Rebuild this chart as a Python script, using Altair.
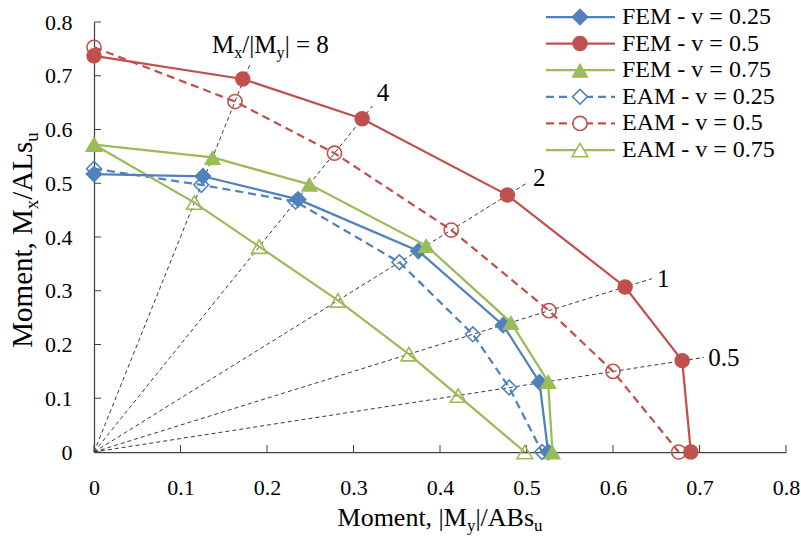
import altair as alt
import pandas as pd

# Interaction diagram: x = |My|/ABs_u, y = Mx/ALs_u
fem_025_x = [0.000, 0.126, 0.236, 0.375, 0.473, 0.515, 0.525]
fem_025_y = [0.517, 0.513, 0.470, 0.374, 0.236, 0.130, 0.000]
fem_05_x = [0.000, 0.172, 0.310, 0.478, 0.614, 0.680, 0.690]
fem_05_y = [0.737, 0.694, 0.620, 0.478, 0.307, 0.170, 0.000]
fem_075_x = [0.000, 0.137, 0.249, 0.384, 0.482, 0.525, 0.530]
fem_075_y = [0.572, 0.548, 0.498, 0.384, 0.241, 0.131, 0.000]
eam_025_x = [0.000, 0.124, 0.233, 0.353, 0.438, 0.480, 0.518]
eam_025_y = [0.527, 0.497, 0.466, 0.353, 0.219, 0.120, 0.000]
eam_05_x = [0.000, 0.163, 0.278, 0.413, 0.526, 0.600, 0.676]
eam_05_y = [0.753, 0.652, 0.556, 0.413, 0.263, 0.150, 0.000]
eam_075_x = [0.000, 0.116, 0.191, 0.282, 0.364, 0.421, 0.498]
eam_075_y = [0.572, 0.464, 0.382, 0.282, 0.182, 0.105, 0.000]

# Constant-ratio guide lines drawn from the origin, with their labels
ratio_labels = ["8", "4", "2", "1", "0.5"]
ratio_end_x = [0.180, 0.322, 0.500, 0.645, 0.705]
ratio_end_y = [0.720, 0.644, 0.500, 0.3225, 0.176]
ratio_label_x = [0.1364, 0.327, 0.5075, 0.651, 0.710]
ratio_label_y = [0.742, 0.668, 0.510, 0.322, 0.175]

axis_ticks = [0.0, 0.1, 0.2, 0.3, 0.4, 0.5, 0.6, 0.7, 0.8]

series_names = ["FEM - v = 0.25", "FEM - v = 0.5", "FEM - v = 0.75",
                "EAM - v = 0.25", "EAM - v = 0.5", "EAM - v = 0.75"]
series_x = [fem_025_x, fem_05_x, fem_075_x, eam_025_x, eam_05_x, eam_075_x]
series_y = [fem_025_y, fem_05_y, fem_075_y, eam_025_y, eam_05_y, eam_075_y]

# ---- styling -------------------------------------------------------------
FONT = "Liberation Serif"
BLUE, RED, GREEN = "#4F81BD", "#C0504D", "#9BBB59"
AXIS_COLOR = "#404040"
W, H = 692, 430
styles = [
    dict(color=BLUE, shape="diamond", filled=True, size=300, dash=None),
    dict(color=RED, shape="circle", filled=True, size=240, dash=None),
    dict(color=GREEN, shape="triangle-up", filled=True, size=300, dash=None),
    dict(color=BLUE, shape="diamond", filled=False, size=220, dash=[8, 5]),
    dict(color=RED, shape="circle", filled=False, size=200, dash=[8, 5]),
    dict(color=GREEN, shape="triangle-up", filled=False, size=240, dash=None),
]

x_scale = alt.Scale(domain=[0, 0.8], nice=False, zero=False)
y_scale = alt.Scale(domain=[0, 0.8], nice=False, zero=False)
x_axis = alt.Axis(values=axis_ticks, format=".1~f", title=None, grid=False,
                  ticks=False, tickSize=0, labelPadding=25, domainColor=AXIS_COLOR,
                  domainWidth=1.25, labelFont=FONT, labelFontSize=22,
                  labelColor="black", labelFlush=False, labelOverlap=False)
y_axis = alt.Axis(values=axis_ticks, format=".1~f", title=None, grid=False,
                  ticks=False, tickSize=0, labelPadding=22, domainColor=AXIS_COLOR,
                  domainWidth=1.25, labelFont=FONT, labelFontSize=22,
                  labelColor="black", labelFlush=False, labelOverlap=False)


def X(field):
    return alt.X(field, type="quantitative", scale=x_scale, axis=x_axis)


def Y(field):
    return alt.Y(field, type="quantitative", scale=y_scale, axis=y_axis)


def PX(field):
    return alt.X(field, type="quantitative", scale=None, axis=None)


def PY(field):
    return alt.Y(field, type="quantitative", scale=None, axis=None)


# Times-compatible advance widths (per 1000 em) for rich-text layout
ADV = {" ": 250, ",": 250, "-": 333, ".": 250, "/": 278, "=": 564, "|": 200,
       "A": 722, "B": 667, "E": 611, "F": 556, "L": 611, "M": 889,
       "e": 444, "m": 778, "n": 500, "o": 500, "s": 389, "t": 278,
       "u": 500, "v": 500, "x": 500, "y": 500}


def text_width(s, size):
    return sum(ADV.get(c, 500) for c in s) * size / 1000.0


def rich_text(pieces, x, y, size, pixel=False, angle=0, centered=False,
              baseline="alphabetic"):
    """Lay out a run of (text, is_subscript) pieces one after another."""
    sub = size * 0.65
    total = sum(text_width(t, sub if s else size) for t, s in pieces)
    pos = -total / 2.0 if centered else 0.0
    out = []
    for t, s in pieces:
        fs = sub if s else size
        df = pd.DataFrame({"px": [x], "py": [y], "t": [t]})
        enc = dict(x=PX("px") if pixel else X("px"),
                   y=PY("py") if pixel else Y("py"), text=alt.Text("t:N"))
        kw = dict(align="left", baseline=baseline, font=FONT, fontSize=fs,
                  color="black", dx=pos, dy=size * 0.2 if s else 0)
        if angle:
            kw["angle"] = angle
        out.append(alt.Chart(df).mark_text(**kw).encode(**enc))
        pos += text_width(t, fs)
    return out


layers = []

# guide lines
guide_rows = []
for i, (ex, ey) in enumerate(zip(ratio_end_x, ratio_end_y)):
    guide_rows.append({"g": i, "k": 0, "gx": 0.0, "gy": 0.0})
    guide_rows.append({"g": i, "k": 1, "gx": ex, "gy": ey})
guides = alt.Chart(pd.DataFrame(guide_rows)).mark_line(
    color="#3a3a3a", strokeWidth=1, strokeDash=[4, 3], clip=False
).encode(x=X("gx"), y=Y("gy"), detail="g:N", order="k:Q")
layers.append(guides)

# inward tick marks
tick_df = pd.DataFrame({"v": axis_ticks})
layers.append(alt.Chart(tick_df).mark_rule(color=AXIS_COLOR, strokeWidth=1).encode(
    x=X("v"), y=alt.value(H), y2=alt.value(H - 7)))
layers.append(alt.Chart(tick_df).mark_rule(color=AXIS_COLOR, strokeWidth=1).encode(
    y=Y("v"), x=alt.value(0), x2=alt.value(7)))

# series: EAM underneath, FEM on top
draw_order = [3, 4, 5, 0, 1, 2]
for i in draw_order:
    st = styles[i]
    df = pd.DataFrame({"mx": series_x[i], "my": series_y[i],
                       "k": list(range(len(series_x[i])))})
    line_kw = dict(color=st["color"], strokeWidth=2.25, clip=False)
    if st["dash"]:
        line_kw["strokeDash"] = st["dash"]
    layers.append(alt.Chart(df).mark_line(**line_kw).encode(
        x=X("mx"), y=Y("my"), order="k:Q"))
    pt_kw = dict(shape=st["shape"], size=st["size"], filled=st["filled"],
                 color=st["color"], opacity=1, clip=False)
    if not st["filled"]:
        pt_kw["strokeWidth"] = 1.6
    layers.append(alt.Chart(df).mark_point(**pt_kw).encode(x=X("mx"), y=Y("my")))

# ratio labels
layers += rich_text([("M", False), ("x", True), ("/|M", False), ("y", True),
                     ("| = " + ratio_labels[0], False)],
                    ratio_label_x[0], ratio_label_y[0], 25)
lab_df = pd.DataFrame({"lx": ratio_label_x[1:], "ly": ratio_label_y[1:],
                       "t": ratio_labels[1:]})
layers.append(alt.Chart(lab_df).mark_text(
    align="left", baseline="middle", font=FONT, fontSize=25, color="black"
).encode(x=X("lx"), y=Y("ly"), text="t:N"))

# axis titles (pixel positions relative to the plot area)
layers += rich_text([("Moment, |M", False), ("y", True), ("|/ABs", False), ("u", True)],
                    W / 2, 504, 26, pixel=True, centered=True)
layers += rich_text([("Moment, M", False), ("x", True), ("/ALs", False), ("u", True)],
                    -62, H / 2 + 3, 29, pixel=True, centered=True, angle=270)

# legend
LEG_X0, LEG_X1, LEG_MK, LEG_TX = 452, 521, 486, 528
for i in range(6):
    st = styles[i]
    ly = -5 + 26.6 * i
    row = pd.DataFrame({"a": [LEG_X0], "b": [LEG_X1], "m": [LEG_MK],
                        "tx": [LEG_TX], "y": [ly], "t": [series_names[i]]})
    rk = dict(color=st["color"], strokeWidth=2.25)
    if st["dash"]:
        rk["strokeDash"] = st["dash"]
    layers.append(alt.Chart(row).mark_rule(**rk).encode(
        x=PX("a"), x2="b:Q", y=PY("y")))
    pk = dict(shape=st["shape"], size=st["size"], filled=st["filled"],
              color=st["color"], opacity=1)
    if not st["filled"]:
        pk["strokeWidth"] = 1.6
        pk["fill"] = "white"
    layers.append(alt.Chart(row).mark_point(**pk).encode(x=PX("m"), y=PY("y")))
    layers.append(alt.Chart(row).mark_text(
        align="left", baseline="middle", font=FONT, fontSize=24, color="black"
    ).encode(x=PX("tx"), y=PY("y"), text="t:N"))

chart = alt.layer(*layers).properties(
    width=W, height=H,
    autosize=alt.AutoSizeParams(type="none"),
    padding={"left": 94, "top": 22, "right": 15, "bottom": 88},
    background="white",
).configure_view(stroke=None)

chart.save("out.html", embed_options={"renderer": "svg", "actions": False})
